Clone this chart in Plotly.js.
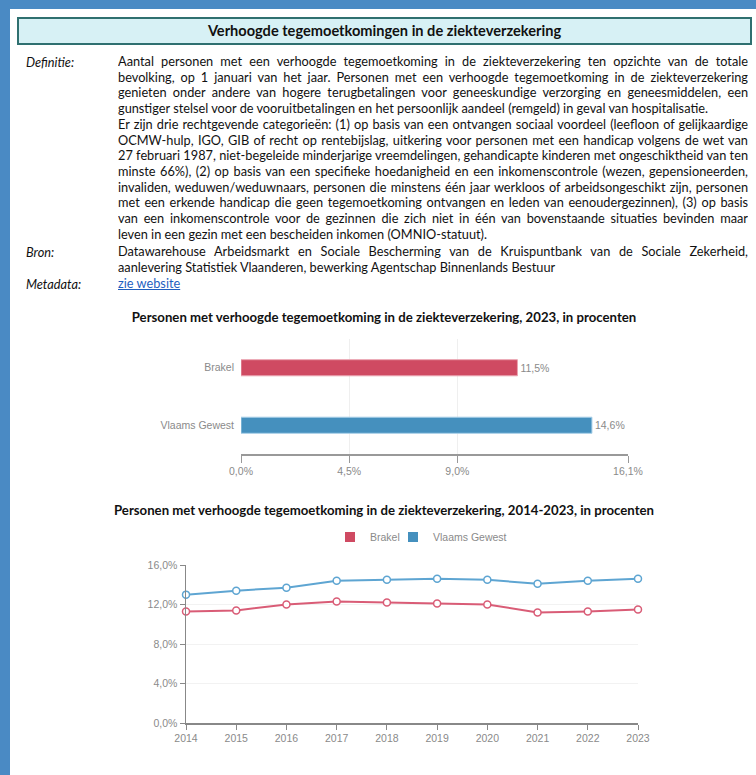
<!DOCTYPE html>
<html>
<head>
<meta charset="utf-8">
<script src="https://cdn.plot.ly/plotly-3.0.1.min.js"></script>
<style>
  html, body { margin:0; padding:0; }
  body { width:756px; height:775px; background:#4a8ac4; position:relative; overflow:hidden; font-family: Lato, "Liberation Sans", sans-serif; }
  #panel { position:absolute; left:10px; top:9px; right:0; bottom:0; background:#fff; }
  #titlebox { position:absolute; left:17px; top:17px; width:731px; height:24px; background:#d7f1f5; border:2px solid #2f7070; text-align:center; font-size:14.6px; font-weight:bold; line-height:24px; color:#111; }
  .lab { position:absolute; left:26px; font-style:italic; font-size:12px; color:#111; line-height:16px; }
  #body { position:absolute; left:118px; top:54px; width:630px; font-size:12px; color:#111; }
  .ln { height:15.73px; line-height:15.73px; white-space:nowrap; }
  .j { text-align:justify; text-align-last:justify; white-space:normal; overflow:hidden; }
  a { color:#1f5fbf; text-decoration:underline; }
  #c1 { position:absolute; left:0; top:300px; width:756px; height:190px; }
  #c2 { position:absolute; left:0; top:490px; width:756px; height:285px; }
</style>
</head>
<body>
<div id="panel"></div>
<div id="titlebox">Verhoogde tegemoetkomingen in de ziekteverzekering</div>
<div class="lab" style="top:54px">Definitie:</div>
<div class="lab" style="top:244px">Bron:</div>
<div class="lab" style="top:276px">Metadata:</div>
<div id="body">
  <div class="ln j">Aantal personen met een verhoogde tegemoetkoming in de ziekteverzekering ten opzichte van de totale</div>
  <div class="ln j">bevolking, op 1 januari van het jaar. Personen met een verhoogde tegemoetkoming in de ziekteverzekering</div>
  <div class="ln j">genieten onder andere van hogere terugbetalingen voor geneeskundige verzorging en geneesmiddelen, een</div>
  <div class="ln" id="ref">gunstiger stelsel voor de vooruitbetalingen en het persoonlijk aandeel (remgeld) in geval van hospitalisatie.</div>
  <div class="ln j">Er zijn drie rechtgevende categorieën: (1) op basis van een ontvangen sociaal voordeel (leefloon of gelijkaardige</div>
  <div class="ln j">OCMW-hulp, IGO, GIB of recht op rentebijslag, uitkering voor personen met een handicap volgens de wet van</div>
  <div class="ln j">27 februari 1987, niet-begeleide minderjarige vreemdelingen, gehandicapte kinderen met ongeschiktheid van ten</div>
  <div class="ln j">minste 66%), (2) op basis van een specifieke hoedanigheid en een inkomenscontrole (wezen, gepensioneerden,</div>
  <div class="ln j">invaliden, weduwen/weduwnaars, personen die minstens één jaar werkloos of arbeidsongeschikt zijn, personen</div>
  <div class="ln j">met een erkende handicap die geen tegemoetkoming ontvangen en leden van eenoudergezinnen), (3) op basis</div>
  <div class="ln j">van een inkomenscontrole voor de gezinnen die zich niet in één van bovenstaande situaties bevinden maar</div>
  <div class="ln">leven in een gezin met een bescheiden inkomen (OMNIO-statuut).</div>
  <div style="height:1.5px"></div>
  <div class="ln j">Datawarehouse Arbeidsmarkt en Sociale Bescherming van de Kruispuntbank van de Sociale Zekerheid,</div>
  <div class="ln">aanlevering Statistiek Vlaanderen, bewerking Agentschap Binnenlands Bestuur</div>
  <div class="ln"><a href="#">zie website</a></div>
</div>
<div id="c1"></div>
<div id="c2"></div>
<script>
// ---- data ----
const barCategories = ["Brakel", "Vlaams Gewest"];
const barValues2023 = [11.5, 14.6];
const barTickVals = [0, 4.5, 9.0, 16.1];
const years = [2014, 2015, 2016, 2017, 2018, 2019, 2020, 2021, 2022, 2023];
const brakel = [11.3, 11.4, 12.0, 12.3, 12.2, 12.1, 12.0, 11.2, 11.3, 11.5];
const vlaamsGewest = [13.0, 13.4, 13.7, 14.4, 14.5, 14.6, 14.5, 14.1, 14.4, 14.6];
const seriesNames = ["Brakel", "Vlaams Gewest"];

// ---- fit body text width ----
(function(){
  const ref = document.getElementById('ref');
  const s = document.createElement('span');
  s.style.whiteSpace = 'nowrap';
  s.textContent = ref.textContent;
  ref.textContent = '';
  ref.appendChild(s);
  const w = s.getBoundingClientRect().width;
  const fs = 12 * 590 / w;
  document.getElementById('body').style.fontSize = fs.toFixed(2) + 'px';
  document.querySelectorAll('.lab').forEach(e => e.style.fontSize = fs.toFixed(2) + 'px');
})();

const RED = '#cf4a62', BLUE = '#4590be';
const RED_L = '#d95c76', BLUE_L = '#5ea5d2';
const tickFont = {family: 'Liberation Sans, Arial, sans-serif', size: 10.5, color: '#8a8a8a'};
const titleFont = {family: 'Lato, Liberation Sans, sans-serif', size: 13.2, color: '#111', weight: 'bold'};

function pct(v){ return v.toFixed(1).replace('.', ',') + '%'; }

Plotly.newPlot('c1', [{
  type: 'bar', orientation: 'h',
  y: barCategories, x: barValues2023,
  marker: {color: [RED, BLUE], line: {color: ['#eaa3b0', '#a8cfe8'], width: 1}},
  width: 0.28,
  text: barValues2023.map(pct), textposition: 'outside',
  textfont: tickFont, cliponaxis: false, hoverinfo: 'none'
}], {
  width: 756, height: 190,
  margin: {l: 241, r: 128, t: 39, b: 36},
  paper_bgcolor: 'rgba(0,0,0,0)', plot_bgcolor: 'rgba(0,0,0,0)',
  title: {text: 'Personen met verhoogde tegemoetkoming in de ziekteverzekering, 2023, in procenten',
          font: titleFont, x: 384/756, xref: 'container', xanchor: 'center', y: 1 - 17/190, yanchor: 'middle'},
  xaxis: {range: [0, 16.1], tickvals: barTickVals, ticktext: barTickVals.map(pct),
          showline: true, linecolor: '#999', linewidth: 1.5, ticks: 'outside', ticklen: 7, tickcolor: '#999',
          showgrid: true, gridcolor: '#efefef', zeroline: false, tickfont: tickFont, fixedrange: true},
  yaxis: {autorange: 'reversed', showline: false, ticks: '', showgrid: false, tickfont: tickFont,
          ticklabelstandoff: 6, fixedrange: true},
  showlegend: false
}, {staticPlot: true});

const legendCommon = {orientation: 'h', xanchor: 'left', y: 1 + 28/158, yanchor: 'middle',
  font: tickFont, itemclick: false, bgcolor: 'rgba(0,0,0,0)', itemwidth: 30};

Plotly.newPlot('c2', [
  {type: 'scatter', mode: 'lines+markers', x: years, y: brakel, name: seriesNames[0],
   line: {color: RED_L, width: 2}, marker: {size: 7, color: '#fff', line: {color: RED_L, width: 1.5}},
   showlegend: false, cliponaxis: false},
  {type: 'scatter', mode: 'lines+markers', x: years, y: vlaamsGewest, name: seriesNames[1],
   line: {color: BLUE_L, width: 2}, marker: {size: 7, color: '#fff', line: {color: BLUE_L, width: 1.5}},
   showlegend: false, cliponaxis: false},
  {type: 'scatter', mode: 'markers', x: [null], y: [null], name: seriesNames[0], legend: 'legend',
   marker: {symbol: 'square', size: 10, color: RED}},
  {type: 'scatter', mode: 'markers', x: [null], y: [null], name: seriesNames[1], legend: 'legend2',
   marker: {symbol: 'square', size: 10, color: BLUE}}
], {
  width: 756, height: 285,
  margin: {l: 186, r: 118, t: 75, b: 52},
  paper_bgcolor: 'rgba(0,0,0,0)', plot_bgcolor: 'rgba(0,0,0,0)',
  separators: ',.',
  title: {text: 'Personen met verhoogde tegemoetkoming in de ziekteverzekering, 2014-2023, in procenten',
          font: titleFont, x: 384/756, xref: 'container', xanchor: 'center', y: 1 - 20/285, yanchor: 'middle'},
  xaxis: {range: [2014, 2023], tickvals: years, showline: true, linecolor: '#888', linewidth: 1.5,
          ticks: 'outside', ticklen: 5, tickcolor: '#888', showgrid: false, zeroline: false,
          tickfont: tickFont, fixedrange: true},
  yaxis: {range: [0, 16], dtick: 4, tickformat: '.1f', ticksuffix: '%', showline: true, linecolor: '#888',
          linewidth: 1.5, ticks: 'outside', ticklen: 5, tickcolor: '#888', showgrid: true, gridcolor: '#f2f2f2',
          zeroline: false, tickfont: tickFont, fixedrange: true},
  showlegend: true,
  legend: Object.assign({}, legendCommon, {x: (330 - 186) / 452}),
  legend2: Object.assign({}, legendCommon, {x: (393 - 186) / 452})
}, {staticPlot: true});
</script>
</body>
</html>
